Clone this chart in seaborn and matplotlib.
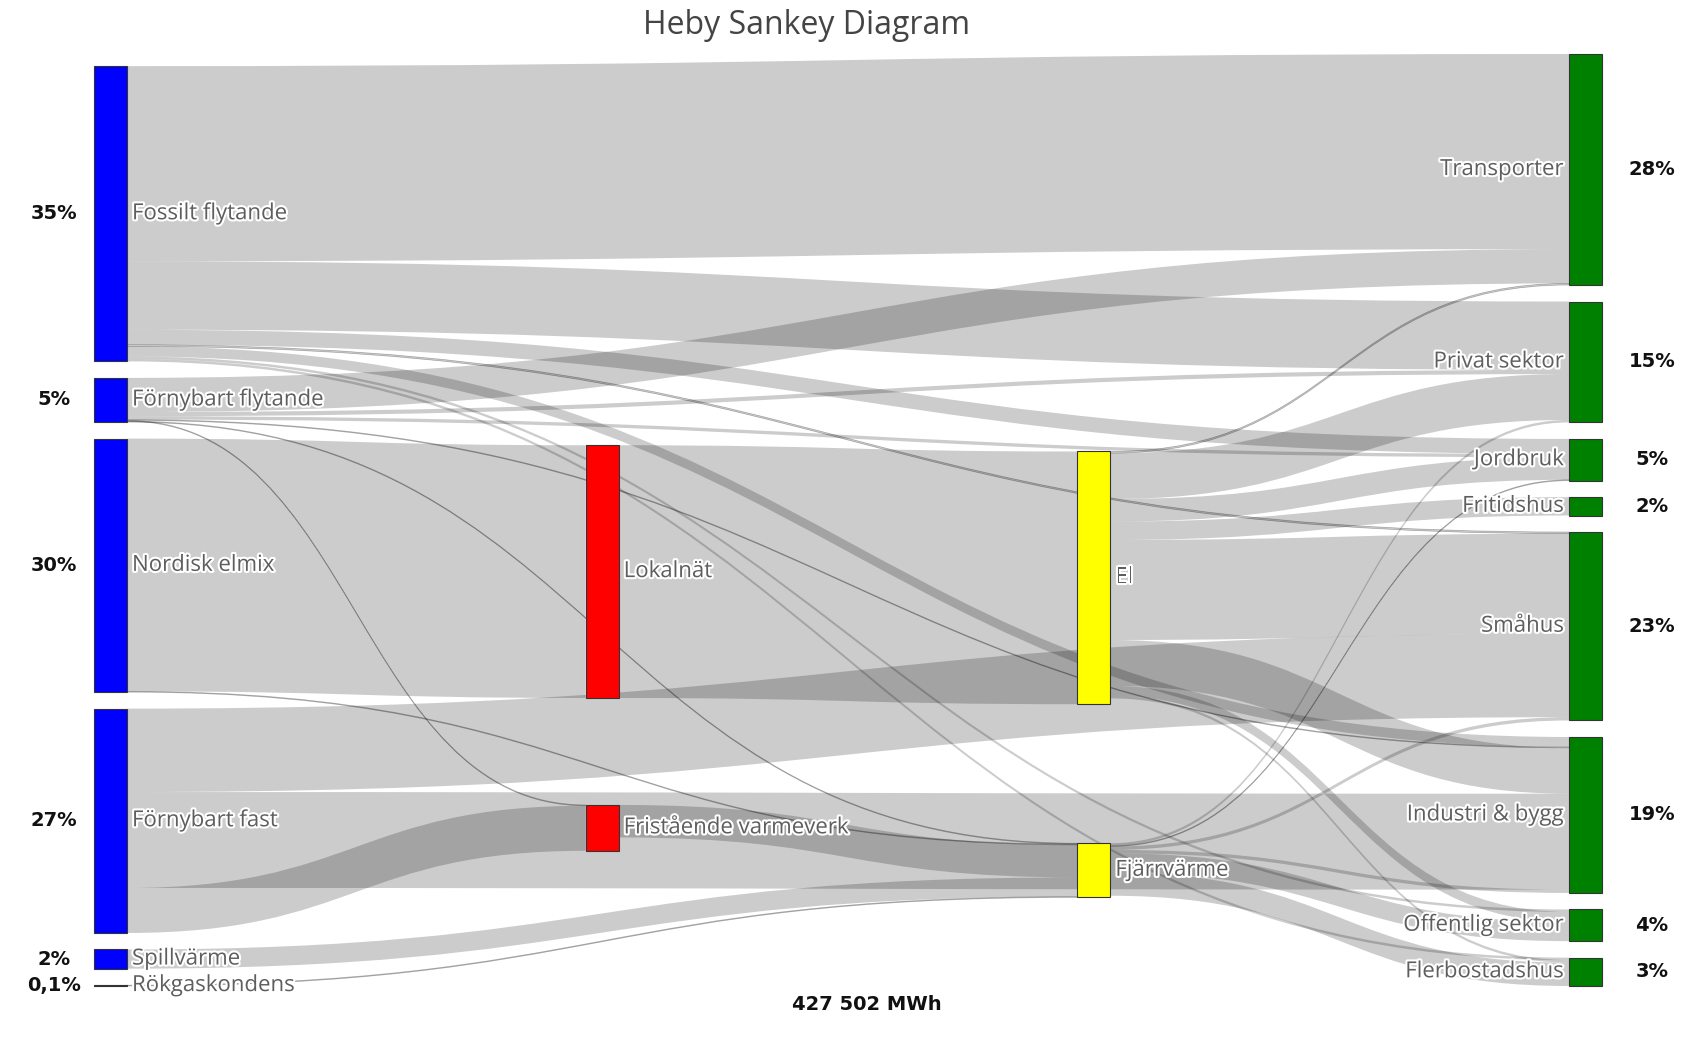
import numpy as np
import pandas as pd
import matplotlib
matplotlib.use("Agg")
import matplotlib.pyplot as plt
from matplotlib.path import Path
from matplotlib.patches import PathPatch, Rectangle
import matplotlib.patheffects as pe
import seaborn as sns

# ---------------- data ----------------
title = "Heby Sankey Diagram"
total_label = "427 502 MWh"

source_nodes = ["Fossilt flytande", "Förnybart flytande", "Nordisk elmix",
                "Förnybart fast", "Spillvärme", "Rökgaskondens"]
source_pct = ["35%", "5%", "30%", "27%", "2%", "0,1%"]
mid1_nodes = ["Lokalnät", "Fristående varmeverk"]
mid2_nodes = ["El", "Fjärrvärme"]
target_nodes = ["Transporter", "Privat sektor", "Jordbruk", "Fritidshus",
                "Småhus", "Industri & bygg", "Offentlig sektor", "Flerbostadshus"]
target_pct = ["28%", "15%", "5%", "2%", "23%", "19%", "4%", "3%"]

link_source = [
    "Fossilt flytande", "Fossilt flytande", "Fossilt flytande", "Fossilt flytande",
    "Fossilt flytande", "Fossilt flytande", "Fossilt flytande",
    "Förnybart flytande", "Förnybart flytande", "Förnybart flytande",
    "Förnybart flytande", "Förnybart flytande", "Förnybart flytande",
    "Nordisk elmix", "Nordisk elmix",
    "Förnybart fast", "Förnybart fast", "Förnybart fast",
    "Spillvärme", "Rökgaskondens",
    "Lokalnät", "Fristående varmeverk",
    "El", "El", "El", "El", "El", "El", "El", "El",
    "Fjärrvärme", "Fjärrvärme", "Fjärrvärme", "Fjärrvärme", "Fjärrvärme", "Fjärrvärme",
]
link_target = [
    "Transporter", "Privat sektor", "Jordbruk", "Småhus",
    "Industri & bygg", "Offentlig sektor", "Flerbostadshus",
    "Transporter", "Privat sektor", "Jordbruk",
    "Industri & bygg", "Fristående varmeverk", "Fjärrvärme",
    "Lokalnät", "Fjärrvärme",
    "Småhus", "Industri & bygg", "Fristående varmeverk",
    "Fjärrvärme", "Fjärrvärme",
    "El", "Fjärrvärme",
    "Transporter", "Privat sektor", "Jordbruk", "Fritidshus",
    "Småhus", "Industri & bygg", "Offentlig sektor", "Flerbostadshus",
    "Privat sektor", "Jordbruk", "Småhus", "Industri & bygg",
    "Offentlig sektor", "Flerbostadshus",
]
link_value = [
    23.4, 8.2, 1.8, 0.2, 1.2, 0.3, 0.3,
    4.1, 0.5, 0.4, 0.1, 0.1, 0.1,
    30.3, 0.1,
    10.0, 11.5, 5.4,
    2.3, 0.1,
    30.3, 3.9,
    0.2, 5.5, 2.7, 2.2, 12.0, 5.5, 1.2, 0.3,
    0.3, 0.1, 0.4, 0.4, 2.3, 2.8,
]

# ---------------- style / layout ----------------
W, H = 1695, 1049
sns.set_theme(style="white")
plt.rcParams["font.family"] = ["Open Sans", "DejaVu Sans"]

columns = [source_nodes, mid1_nodes, mid2_nodes, target_nodes]
col_colors = ["#0000ff", "#ff0000", "#ffff00", "#008000"]
node_w = 33
x_first, x_last = 94, 1602 - node_w
plot_top, plot_bottom = 54, 986
pad = 16.5
iterations = 32

links = pd.DataFrame({"source": link_source, "target": link_target, "value": link_value})

nodes = {}
for ci, col in enumerate(columns):
    for name in col:
        vin = links.loc[links.target == name, "value"].sum()
        vout = links.loc[links.source == name, "value"].sum()
        nodes[name] = {"col": ci, "value": max(vin, vout), "y": 0.0}

col_x = np.linspace(x_first, x_last, len(columns))
avail = plot_bottom - plot_top
ky = min((avail - (len(c) - 1) * pad) / sum(nodes[n]["value"] for n in c) for c in columns)
for n in nodes.values():
    n["h"] = n["value"] * ky


def center(name):
    return nodes[name]["y"] + nodes[name]["h"] / 2


def resolve():
    for col in columns:
        order = sorted(col, key=lambda n: nodes[n]["y"])
        y0 = plot_top
        for n in order:
            dy = y0 - nodes[n]["y"]
            if dy > 0:
                nodes[n]["y"] += dy
            y0 = nodes[n]["y"] + nodes[n]["h"] + pad
        dy = y0 - pad - plot_bottom
        if dy > 0:
            nodes[order[-1]]["y"] -= dy
            y0 = nodes[order[-1]]["y"]
            for n in reversed(order[:-1]):
                dy = nodes[n]["y"] + nodes[n]["h"] + pad - y0
                if dy > 0:
                    nodes[n]["y"] -= dy
                y0 = nodes[n]["y"]


def relax(alpha, direction):
    cols = columns if direction == "ltr" else columns[::-1]
    for col in cols:
        for n in col:
            if direction == "ltr":
                sel = links[links.target == n]
                others = sel.source
            else:
                sel = links[links.source == n]
                others = sel.target
            if len(sel) == 0:
                continue
            y = sum(center(o) * v for o, v in zip(others, sel.value)) / sel.value.sum()
            nodes[n]["y"] += (y - center(n)) * alpha


for col in columns:
    for i, n in enumerate(col):
        nodes[n]["y"] = i
resolve()
alpha = 1.0
for _ in range(iterations):
    alpha *= 0.99
    relax(alpha, "rtl")
    resolve()
    relax(alpha, "ltr")
    resolve()

# link stacking positions
src_off = {n: nodes[n]["y"] for n in nodes}
tgt_off = {n: nodes[n]["y"] for n in nodes}
links["sy0"] = 0.0
links["ty0"] = 0.0
for n in nodes:
    out = links[links.source == n].copy()
    out["key"] = [nodes[t]["y"] for t in out.target]
    for idx in out.sort_values("key", kind="stable").index:
        links.at[idx, "sy0"] = src_off[n]
        src_off[n] += links.at[idx, "value"] * ky
    inc = links[links.target == n].copy()
    inc["key"] = [nodes[s]["y"] for s in inc.source]
    for idx in inc.sort_values("key", kind="stable").index:
        links.at[idx, "ty0"] = tgt_off[n]
        tgt_off[n] += links.at[idx, "value"] * ky

# ---------------- draw ----------------
fig = plt.figure(figsize=(W / 100, H / 100), dpi=100)
ax = fig.add_axes([0, 0, 1, 1])
ax.set_xlim(0, W)
ax.set_ylim(H, 0)
ax.axis("off")

for _, r in links.iterrows():
    x0 = col_x[nodes[r.source]["col"]] + node_w
    x1 = col_x[nodes[r.target]["col"]]
    w = r.value * ky
    ys0, ys1 = r.sy0, r.sy0 + w
    yt0, yt1 = r.ty0, r.ty0 + w
    xm = (x0 + x1) / 2
    verts = [(x0, ys0), (xm, ys0), (xm, yt0), (x1, yt0), (x1, yt1),
             (xm, yt1), (xm, ys1), (x0, ys1), (x0, ys0)]
    codes = [Path.MOVETO, Path.CURVE4, Path.CURVE4, Path.CURVE4, Path.LINETO,
             Path.CURVE4, Path.CURVE4, Path.CURVE4, Path.CLOSEPOLY]
    thin = r.value <= 0.2
    ax.add_patch(PathPatch(Path(verts, codes), facecolor=(0, 0, 0, 0.2),
                           edgecolor=(0, 0, 0, 0.28) if thin else "none",
                           linewidth=0.5 if thin else 0, zorder=1))

halo = [pe.withStroke(linewidth=3, foreground="white")]
for ci, col in enumerate(columns):
    for name in col:
        n = nodes[name]
        x = col_x[ci]
        ax.add_patch(Rectangle((x, n["y"]), node_w, max(n["h"], 0.8),
                               facecolor=col_colors[ci], edgecolor="#333333",
                               linewidth=0.8, zorder=2))
        if ci < len(columns) - 1:
            ax.text(x + node_w + 5, center(name), name, ha="left", va="center",
                    fontsize=16, color="#5e5e5e", zorder=3, path_effects=halo)
        else:
            ax.text(x - 5, center(name), name, ha="right", va="center",
                    fontsize=16, color="#5e5e5e", zorder=3, path_effects=halo)

for name, lab in zip(source_nodes, source_pct):
    ax.text(54, center(name), lab, ha="center", va="center", fontsize=14,
            fontweight="bold", family="DejaVu Sans", color="#111111")
for name, lab in zip(target_nodes, target_pct):
    ax.text(1652, center(name), lab, ha="center", va="center", fontsize=14,
            fontweight="bold", family="DejaVu Sans", color="#111111")

ax.text(807, 25, title, ha="center", va="center", fontsize=23, color="#444444")
ax.text(867, 1004, total_label, ha="center", va="center", fontsize=14,
        fontweight="bold", family="DejaVu Sans", color="#111111")

fig.savefig("out.png", dpi=100, facecolor="white")
